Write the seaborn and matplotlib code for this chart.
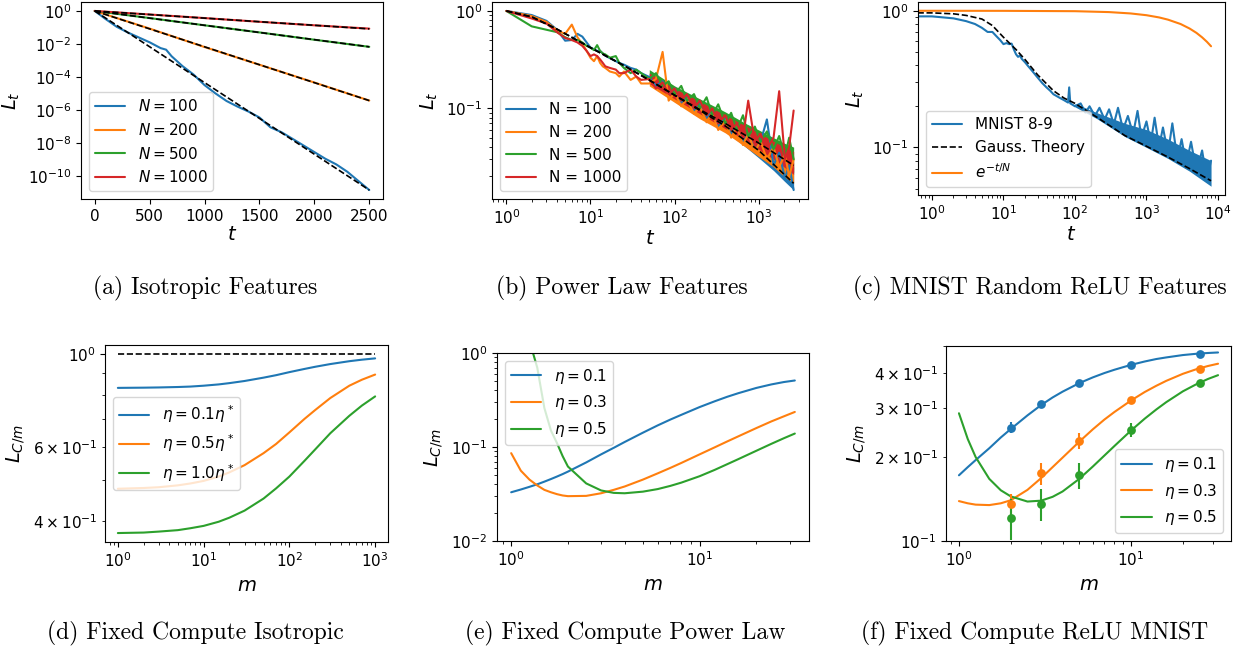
import matplotlib
matplotlib.use('Agg')
import matplotlib.pyplot as plt
import seaborn as sns

# ---------------- datos ----------------
C_BLUE, C_ORANGE, C_GREEN, C_RED = '#1f77b4', '#ff7f0e', '#2ca02c', '#d62728'

# (a) Isotropic
a_t100 = [0, 100, 200, 300, 400, 500, 600, 650, 700, 800, 900, 1000, 1100, 1200, 1300,
          1400, 1500, 1600, 1700, 1800, 1900, 2000, 2100, 2200, 2300, 2400, 2500]
a_L100 = [1.0, 3.2e-1, 1.1e-1, 5.0e-2, 2.5e-2, 1.26e-2, 5.6e-3, 4.5e-3, 1.8e-3, 4.5e-4,
          1.4e-4, 3.2e-5, 1.0e-5, 3.5e-6, 1.6e-6, 8.0e-7, 3.5e-7, 8.9e-8, 4.5e-8, 1.8e-8,
          7.1e-9, 2.8e-9, 1.1e-9, 5.0e-10, 1.8e-10, 5.0e-11, 1.4e-11]
a_t = [0, 500, 1000, 1500, 2000, 2500]
a_L200 = [1.0, 8.5e-2, 6.5e-3, 5.5e-4, 4.6e-5, 3.7e-6]
a_L500 = [1.0, 0.37, 0.135, 0.05, 0.018, 6.7e-3]
a_L1000 = [1.0, 0.61, 0.37, 0.22, 0.135, 0.085]
a_theory_t = [0, 2500]
a_theory = {100: [1.0, 1.4e-11], 200: [1.0, 3.7e-6], 500: [1.0, 6.7e-3], 1000: [1.0, 8.2e-2]}

# (b) Power law
b_t = [1, 2, 3, 4, 5, 6, 7, 8, 9, 10, 11, 12, 13, 14, 15, 17, 20, 22, 25, 30, 35, 40,
       50, 60, 72, 85, 100, 120, 140, 170, 200, 240, 280, 330, 400, 470, 550, 650, 750,
       900, 1050, 1250, 1500, 1750, 2050, 2300, 2600]
b_L100 = [1.0, 0.908, 0.791, 0.641, 0.495, 0.503, 0.582, 0.545, 0.475, 0.421, 0.404, 0.389,
          0.389, 0.366, 0.347, 0.328, 0.305, 0.293, 0.281, 0.26, 0.25, 0.23,
          0.21, 0.17, 0.19, 0.14, 0.16, 0.115, 0.13, 0.095, 0.115, 0.08, 0.095, 0.066, 0.08,
          0.055, 0.065, 0.045, 0.055, 0.037, 0.045, 0.077, 0.026, 0.035, 0.019, 0.026, 0.0145]
b_L200 = [1.0, 0.886, 0.772, 0.631, 0.582, 0.724, 0.537, 0.457, 0.389, 0.331, 0.305, 0.344,
          0.293, 0.270, 0.260, 0.239, 0.230, 0.212, 0.239, 0.196, 0.212, 0.180,
          0.18, 0.2, 0.38, 0.12, 0.145, 0.105, 0.125, 0.088, 0.105, 0.072, 0.09, 0.06, 0.075,
          0.05, 0.065, 0.042, 0.055, 0.036, 0.046, 0.03, 0.04, 0.025, 0.034, 0.02, 0.03]
b_L500 = [1.0, 0.695, 0.641, 0.606, 0.537, 0.503, 0.503, 0.475, 0.438, 0.421, 0.396, 0.446,
          0.389, 0.366, 0.358, 0.331, 0.344, 0.293, 0.260, 0.230, 0.249, 0.230,
          0.2, 0.23, 0.17, 0.19, 0.14, 0.17, 0.12, 0.14, 0.1, 0.13, 0.085, 0.11, 0.07,
          0.09, 0.06, 0.085, 0.052, 0.065, 0.045, 0.058, 0.038, 0.052, 0.032, 0.05, 0.03]
b_L1000 = [1.0, 0.837, 0.742, 0.606, 0.528, 0.503, 0.475, 0.438, 0.389, 0.344, 0.358, 0.344,
           0.318, 0.293, 0.270, 0.260, 0.25, 0.23, 0.23, 0.25, 0.212, 0.196,
           0.2, 0.16, 0.185, 0.14, 0.16, 0.12, 0.14, 0.1, 0.12, 0.085, 0.1, 0.07, 0.085,
           0.06, 0.07, 0.05, 0.12, 0.045, 0.055, 0.038, 0.05, 0.15, 0.03, 0.04, 0.095]
b_band_t = [50, 100, 200, 400, 700, 1000, 1500, 2000, 2600]
b_band = {
    'N = 100': ([0.19, 0.125, 0.085, 0.058, 0.040, 0.031, 0.023, 0.018, 0.0145],
                [0.23, 0.16, 0.11, 0.078, 0.058, 0.047, 0.037, 0.030, 0.025]),
    'N = 200': ([0.17, 0.115, 0.078, 0.056, 0.040, 0.032, 0.025, 0.020, 0.017],
                [0.22, 0.15, 0.105, 0.076, 0.058, 0.047, 0.038, 0.032, 0.028]),
    'N = 500': ([0.19, 0.13, 0.09, 0.064, 0.048, 0.040, 0.031, 0.026, 0.022],
                [0.25, 0.17, 0.125, 0.092, 0.070, 0.060, 0.050, 0.044, 0.040]),
    'N = 1000': ([0.18, 0.125, 0.088, 0.062, 0.047, 0.038, 0.030, 0.025, 0.021],
                 [0.23, 0.16, 0.118, 0.085, 0.066, 0.056, 0.046, 0.040, 0.036]),
}
b_theory_t = [1, 2, 4, 10, 24, 50, 100, 200, 400, 1000, 2600]
b_theory_hi = [1.0, 0.87, 0.65, 0.42, 0.28, 0.195, 0.137, 0.097, 0.070, 0.044, 0.026]
b_theory_lo = [1.0, 0.87, 0.65, 0.42, 0.28, 0.195, 0.136, 0.095, 0.066, 0.037, 0.017]

# (c) MNIST ReLU
c_t = [0, 1, 2, 3, 4, 5, 6, 7, 8, 9, 10, 11, 12, 13, 14, 15, 16, 17, 18, 20, 22, 25, 30,
       35, 40, 45, 50, 60, 70, 80, 83, 86, 90, 100, 120, 140, 160, 190, 220, 260, 300, 350,
       400, 470, 550, 650, 750, 850, 1000, 1150, 1300, 1500, 1700, 2000, 2300, 2700, 3100,
       3600, 4200, 5000, 6000, 7000, 8000]
c_mnist = [0.91, 0.91, 0.88, 0.84, 0.80, 0.75, 0.70, 0.70, 0.65, 0.61, 0.57, 0.58, 0.57,
           0.575, 0.52, 0.48, 0.46, 0.47, 0.445, 0.42, 0.395, 0.365, 0.325, 0.295, 0.275,
           0.26, 0.245, 0.232, 0.222, 0.213, 0.275, 0.21, 0.207, 0.2, 0.21, 0.18, 0.2, 0.17,
           0.195, 0.16, 0.19, 0.148, 0.195, 0.135, 0.17, 0.125, 0.185, 0.118, 0.155, 0.108,
           0.165, 0.10, 0.14, 0.09, 0.15, 0.082, 0.115, 0.075, 0.11, 0.066, 0.095, 0.058, 0.08]
c_band_t = [100, 200, 500, 1000, 2000, 4000, 8000]
c_band_lo = [0.198, 0.163, 0.12, 0.1, 0.083, 0.067, 0.052]
c_band_hi = [0.21, 0.18, 0.15, 0.135, 0.115, 0.095, 0.08]
c_theory_t = [0, 1, 2, 3, 5, 7, 10, 15, 20, 30, 50, 70, 100, 200, 500, 1000, 2000, 4000, 8000]
c_theory = [0.97, 0.965, 0.95, 0.925, 0.87, 0.78, 0.64, 0.52, 0.44, 0.34, 0.26, 0.23, 0.21,
            0.167, 0.122, 0.102, 0.085, 0.07, 0.057]
c_exp_t = [0, 1, 10, 100, 300, 600, 1000, 1500, 2000, 3000, 4000, 5000, 6000, 7000, 8000]
c_exp = [1.0, 1.0, 0.999, 0.993, 0.978, 0.956, 0.928, 0.894, 0.861, 0.80, 0.742, 0.689,
         0.639, 0.593, 0.55]

# (d) Fixed compute isotropic
d_m = [1, 2, 3, 5, 7, 10, 15, 20, 30, 50, 70, 100, 150, 200, 300, 500, 700, 1000]
d_L = {
    r'$\eta = 0.1\eta^*$': [0.830, 0.831, 0.832, 0.834, 0.836, 0.840, 0.846, 0.852, 0.862,
                            0.878, 0.890, 0.905, 0.921, 0.932, 0.946, 0.961, 0.969, 0.976],
    r'$\eta = 0.5\eta^*$': [0.477, 0.479, 0.481, 0.486, 0.491, 0.498, 0.510, 0.522, 0.543,
                            0.580, 0.610, 0.650, 0.700, 0.735, 0.785, 0.840, 0.868, 0.893],
    r'$\eta = 1.0\eta^*$': [0.374, 0.375, 0.377, 0.380, 0.384, 0.389, 0.398, 0.407, 0.423,
                            0.452, 0.478, 0.510, 0.556, 0.592, 0.647, 0.712, 0.753, 0.792],
}
d_ref_m = [1, 1000]
d_ref = [1.0, 1.0]

# (e) Fixed compute power law
e_m = [1, 1.125, 1.25, 1.375, 1.5, 1.625, 1.75, 1.875, 2, 2.5, 3, 3.5, 4, 5, 6, 7, 8,
       10, 12, 14, 16, 20, 24, 28, 32]
e_L = {
    r'$\eta = 0.1$': [0.033, 0.0353, 0.0377, 0.0401, 0.0428, 0.0456, 0.0485, 0.0515, 0.0547,
                      0.0685, 0.0835, 0.098, 0.113, 0.142, 0.170, 0.196, 0.220, 0.266, 0.306,
                      0.342, 0.373, 0.425, 0.463, 0.491, 0.51],
    r'$\eta = 0.3$': [0.086, 0.056, 0.045, 0.039, 0.035, 0.033, 0.0315, 0.0305, 0.0300,
                      0.0302, 0.0322, 0.0350, 0.0380, 0.0450, 0.0525, 0.0600, 0.0677, 0.0835,
                      0.0990, 0.1145, 0.1295, 0.1590, 0.187, 0.212, 0.236],
    r'$\eta = 0.5$': [6.0, 2.8, 1.35, 0.70, 0.26, 0.15, 0.11, 0.08, 0.062, 0.041, 0.0345,
                      0.0325, 0.0322, 0.0335, 0.0357, 0.0386, 0.0418, 0.0489, 0.057, 0.0656,
                      0.0741, 0.0912, 0.108, 0.124, 0.139],
}

# (f) Fixed compute ReLU MNIST
f_m = [1, 1.125, 1.25, 1.5, 1.75, 2, 2.5, 3, 3.5, 4, 5, 6, 7, 8, 10, 12, 14, 16, 20, 24, 28, 32]
f_L = {
    r'$\eta = 0.1$': [0.172, 0.184, 0.195, 0.215, 0.235, 0.252, 0.282, 0.307, 0.327, 0.343,
                      0.368, 0.386, 0.400, 0.411, 0.428, 0.440, 0.449, 0.455, 0.464, 0.469,
                      0.472, 0.474],
    r'$\eta = 0.3$': [0.139, 0.1365, 0.135, 0.1345, 0.1365, 0.140, 0.1525, 0.168, 0.184, 0.199,
                      0.227, 0.2515, 0.2725, 0.290, 0.319, 0.342, 0.360, 0.375, 0.3975, 0.413,
                      0.424, 0.432],
    r'$\eta = 0.5$': [0.287, 0.232, 0.200, 0.167, 0.152, 0.1445, 0.1385, 0.1395, 0.144, 0.1505,
                      0.167, 0.185, 0.2025, 0.219, 0.249, 0.2745, 0.296, 0.3145, 0.344, 0.365,
                      0.381, 0.393],
}
f_pts_m = [2, 3, 5, 10, 25]
f_pts = {
    r'$\eta = 0.1$': ([0.255, 0.31, 0.369, 0.428, 0.467], [0.011, 0.006, 0.005, 0.005, 0.004]),
    r'$\eta = 0.3$': ([0.1355, 0.175, 0.228, 0.321, 0.414], [0.012, 0.016, 0.015, 0.008, 0.006]),
    r'$\eta = 0.5$': ([0.121, 0.1355, 0.172, 0.25, 0.369], [0.02, 0.0175, 0.018, 0.014, 0.008]),
}

# ---------------- estilo ----------------
sns.set_style('ticks')
plt.rcParams.update({
    'font.family': ['DejaVu Sans'],
    'mathtext.fontset': 'dejavusans',
    'axes.edgecolor': 'black', 'axes.labelcolor': 'black', 'text.color': 'black',
    'xtick.color': 'black', 'ytick.color': 'black',
    'xtick.labelsize': 11, 'ytick.labelsize': 11,
    'axes.labelsize': 14, 'legend.fontsize': 11,
    'axes.linewidth': 0.8,
})


def linea(ax, x, y, color, label=None, ls='-', lw=1.5):
    sns.lineplot(x=x, y=y, ax=ax, color=color, label=label, linestyle=ls,
                 linewidth=lw, errorbar=None, estimator=None, sort=False, legend=False)


fig = plt.figure(figsize=(12.45, 6.49), dpi=100)
W, H = 1245, 649


def caja(l, r, t, b):
    return fig.add_axes([l / W, 1 - b / H, (r - l) / W, (b - t) / H])


ax_a = caja(81, 383, 2, 199)
ax_b = caja(492, 808, 2, 199)
ax_c = caja(918, 1225, 2, 195)
ax_d = caja(105, 388, 345, 542)
ax_e = caja(497, 809, 353, 541)
ax_f = caja(946, 1231, 346, 541)

# (a)
linea(ax_a, a_t100, a_L100, C_BLUE, r'$N = 100$')
linea(ax_a, a_t, a_L200, C_ORANGE, r'$N = 200$')
linea(ax_a, a_t, a_L500, C_GREEN, r'$N = 500$')
linea(ax_a, a_t, a_L1000, C_RED, r'$N = 1000$')
for n, vals in a_theory.items():
    linea(ax_a, a_theory_t, vals, 'black', ls='--', lw=1.2)
ax_a.set_yscale('log')
ax_a.set_xlabel(r'$t$', labelpad=1)
ax_a.set_ylabel(r'$L_t$')
ax_a.set_xticks([0, 500, 1000, 1500, 2000, 2500])
ax_a.legend(loc='lower left')

# (b)
for (lab, vals), col in zip([('N = 100', b_L100), ('N = 200', b_L200),
                             ('N = 500', b_L500), ('N = 1000', b_L1000)],
                            [C_BLUE, C_ORANGE, C_GREEN, C_RED]):
    lo, hi = b_band[lab]
    ax_b.fill_between(b_band_t, lo, hi, color=col, lw=0)
    linea(ax_b, b_t, vals, col, lab)
linea(ax_b, b_theory_t, b_theory_lo, 'black', ls='--', lw=1.2)
linea(ax_b, b_theory_t, b_theory_hi, 'black', ls='--', lw=1.2)
ax_b.set_xscale('log')
ax_b.set_yscale('log')
ax_b.set_xlabel(r'$t$', labelpad=1)
ax_b.set_ylabel(r'$L_t$')
ax_b.legend(loc='lower left')

# (c)
ax_c.fill_between(c_band_t, c_band_lo, c_band_hi, color=C_BLUE, lw=0)
linea(ax_c, c_t, c_mnist, C_BLUE, 'MNIST 8-9')
linea(ax_c, c_theory_t, c_theory, 'black', 'Gauss. Theory', ls='--', lw=1.2)
linea(ax_c, c_exp_t, c_exp, C_ORANGE, r'$e^{-t/N}$')
ax_c.set_xscale('log')
ax_c.set_yscale('log')
ax_c.set_xlabel(r'$t$', labelpad=1)
ax_c.set_ylabel(r'$L_t$')
ax_c.legend(loc='lower left')

# (d)
linea(ax_d, d_ref_m, d_ref, 'black', ls='--', lw=1.2)
for (lab, vals), col in zip(d_L.items(), [C_BLUE, C_ORANGE, C_GREEN]):
    linea(ax_d, d_m, vals, col, lab)
ax_d.set_xscale('log')
ax_d.set_yscale('log')
ax_d.set_xlabel(r'$m$')
ax_d.set_ylabel(r'$L_{C/m}$')
ax_d.legend(loc='center left')

# (e)
for (lab, vals), col in zip(e_L.items(), [C_BLUE, C_ORANGE, C_GREEN]):
    linea(ax_e, e_m, vals, col, lab)
ax_e.set_xscale('log')
ax_e.set_yscale('log')
ax_e.set_ylim(0.01, 1)
ax_e.set_xlabel(r'$m$')
ax_e.set_ylabel(r'$L_{C/m}$')
ax_e.legend(loc='upper left')

# (f)
cols = [C_BLUE, C_ORANGE, C_GREEN]
for (lab, vals), col in zip(f_L.items(), cols):
    linea(ax_f, f_m, vals, col, lab)
for (lab, (vals, err)), col in zip(f_pts.items(), cols):
    ax_f.errorbar(f_pts_m, vals, yerr=err, fmt='none', ecolor=col, elinewidth=1.5, zorder=3)
    sns.scatterplot(x=f_pts_m, y=vals, ax=ax_f, color=col, s=40, edgecolor=col,
                    linewidth=0, zorder=4, legend=False)
ax_f.set_xscale('log')
ax_f.set_yscale('log')
ax_f.set_ylim(0.1, 0.5)
ax_f.set_xlabel(r'$m$')
ax_f.set_ylabel(r'$L_{C/m}$')
ax_f.legend(loc='lower right')

# leyendas de cada panel
captions = [(205, 288, '(a) Isotropic Features'), (622, 288, '(b) Power Law Features'),
            (1040, 288, '(c) MNIST Random ReLU Features'),
            (195, 633, '(d) Fixed Compute Isotropic'), (625, 633, '(e) Fixed Compute Power Law'),
            (1035, 633, '(f) Fixed Compute ReLU MNIST')]
for x, y, txt in captions:
    fig.text(x / W, 1 - y / H, txt, ha='center', va='center', fontsize=17, family='cmr10')

fig.savefig('out.png', dpi=100)
